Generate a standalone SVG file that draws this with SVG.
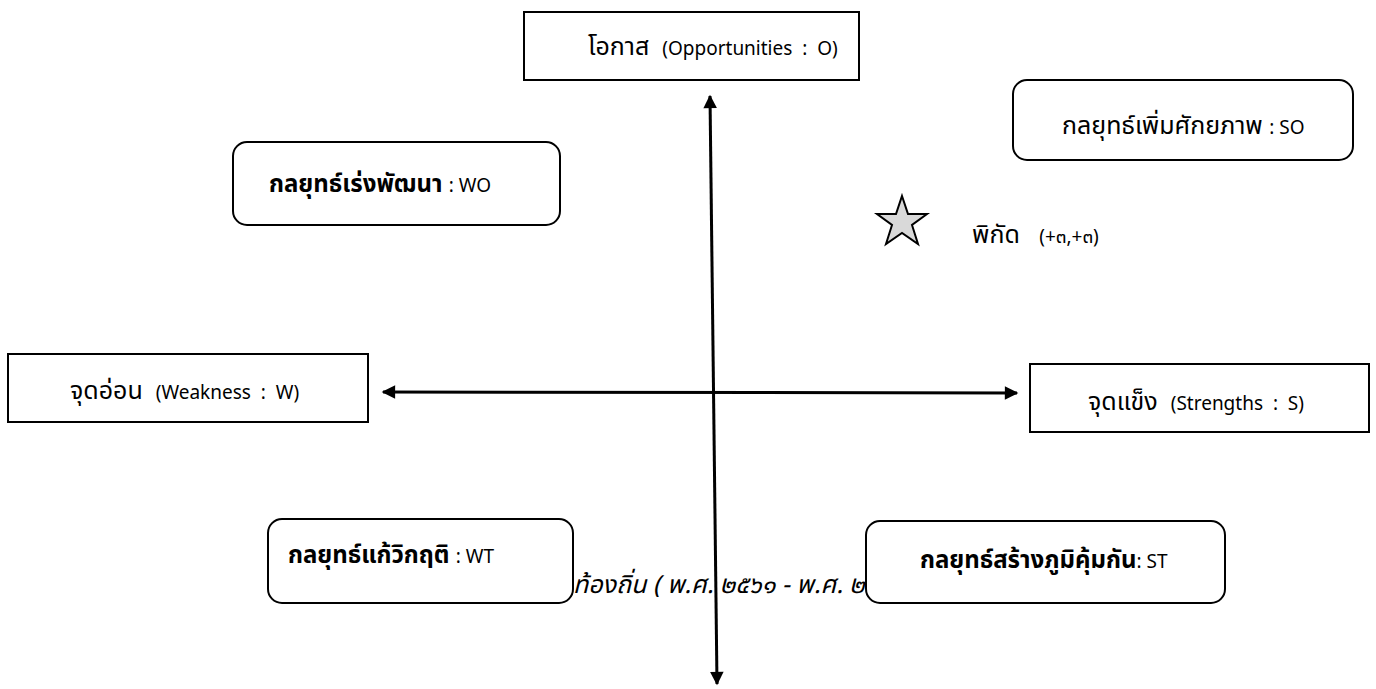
<svg xmlns="http://www.w3.org/2000/svg" width="1376" height="689" viewBox="0 0 1376 689">
<style>
.box{fill:#fff;stroke:#000;stroke-width:2}
.t{font-family:"Noto Sans Thai","Noto Sans","DejaVu Sans",sans-serif;font-size:25px;fill:#000;white-space:pre}
.s{font-size:19px}
.b{font-weight:bold;font-size:24px}
.n{font-weight:normal}
.ln{stroke:#000;stroke-width:3;fill:none}
</style>
<defs>
<marker id="ah" viewBox="0 0 10 10" refX="9" refY="5" markerWidth="5" markerHeight="4.5" orient="auto-start-reverse" markerUnits="strokeWidth">
<path d="M0,0 L10,5 L0,10 Z" fill="#000"/>
</marker>
</defs>
<text class="t" x="573" y="593" font-style="italic" font-size="27">ท้องถิ่น ( พ.ศ. ๒๕๖๑ - พ.ศ. ๒๕๖๔ )</text>
<g id="connectors">
<line class="ln" x1="710" y1="96" x2="717" y2="684" marker-start="url(#ah)" marker-end="url(#ah)"/>
<line class="ln" x1="383" y1="392" x2="1017" y2="393" marker-start="url(#ah)" marker-end="url(#ah)"/>
</g>
<g id="n-o">
<rect class="box" x="524" y="12" width="335" height="68"/>
<text class="t" x="588" y="55">โอกาส  <tspan class="s">(Opportunities  :  O)</tspan></text>
</g>
<g id="n-so">
<rect class="box" x="1013" y="80" width="340" height="80" rx="14"/>
<text class="t" x="1062" y="134">กลยุทธ์เพิ่มศักยภาพ <tspan class="s">: SO</tspan></text>
</g>
<g id="n-wo">
<rect class="box" x="233" y="142" width="327" height="83" rx="14"/>
<text class="t b" x="269" y="192">กลยุทธ์เร่งพัฒนา <tspan class="s n">: WO</tspan></text>
</g>
<g id="n-star">
<polygon points="902,196 908,214 927,214 912,225 918,244 902,233 886,244 892,225 877,214 896,214" fill="#d9d9d9" stroke="#000" stroke-width="2"/>
<text class="t" x="972" y="243">พิกัด   <tspan class="s">(+๓,+๓)</tspan></text>
</g>
<g id="n-w">
<rect class="box" x="8" y="354" width="360" height="68"/>
<text class="t" x="70" y="399">จุดอ่อน  <tspan class="s">(Weakness  :  W)</tspan></text>
</g>
<g id="n-s">
<rect class="box" x="1030" y="364" width="339" height="68"/>
<text class="t" x="1088" y="410">จุดแข็ง  <tspan class="s">(Strengths  :  S)</tspan></text>
</g>
<g id="n-wt">
<rect class="box" x="268" y="519" width="305" height="84" rx="14"/>
<text class="t b" x="288" y="563">กลยุทธ์แก้วิกฤติ <tspan class="s n">: WT</tspan></text>
</g>
<g id="n-st">
<rect class="box" x="866" y="521" width="359" height="82" rx="14"/>
<text class="t b" x="920" y="568">กลยุทธ์สร้างภูมิคุ้มกัน<tspan class="s n">: ST</tspan></text>
</g>
</svg>
